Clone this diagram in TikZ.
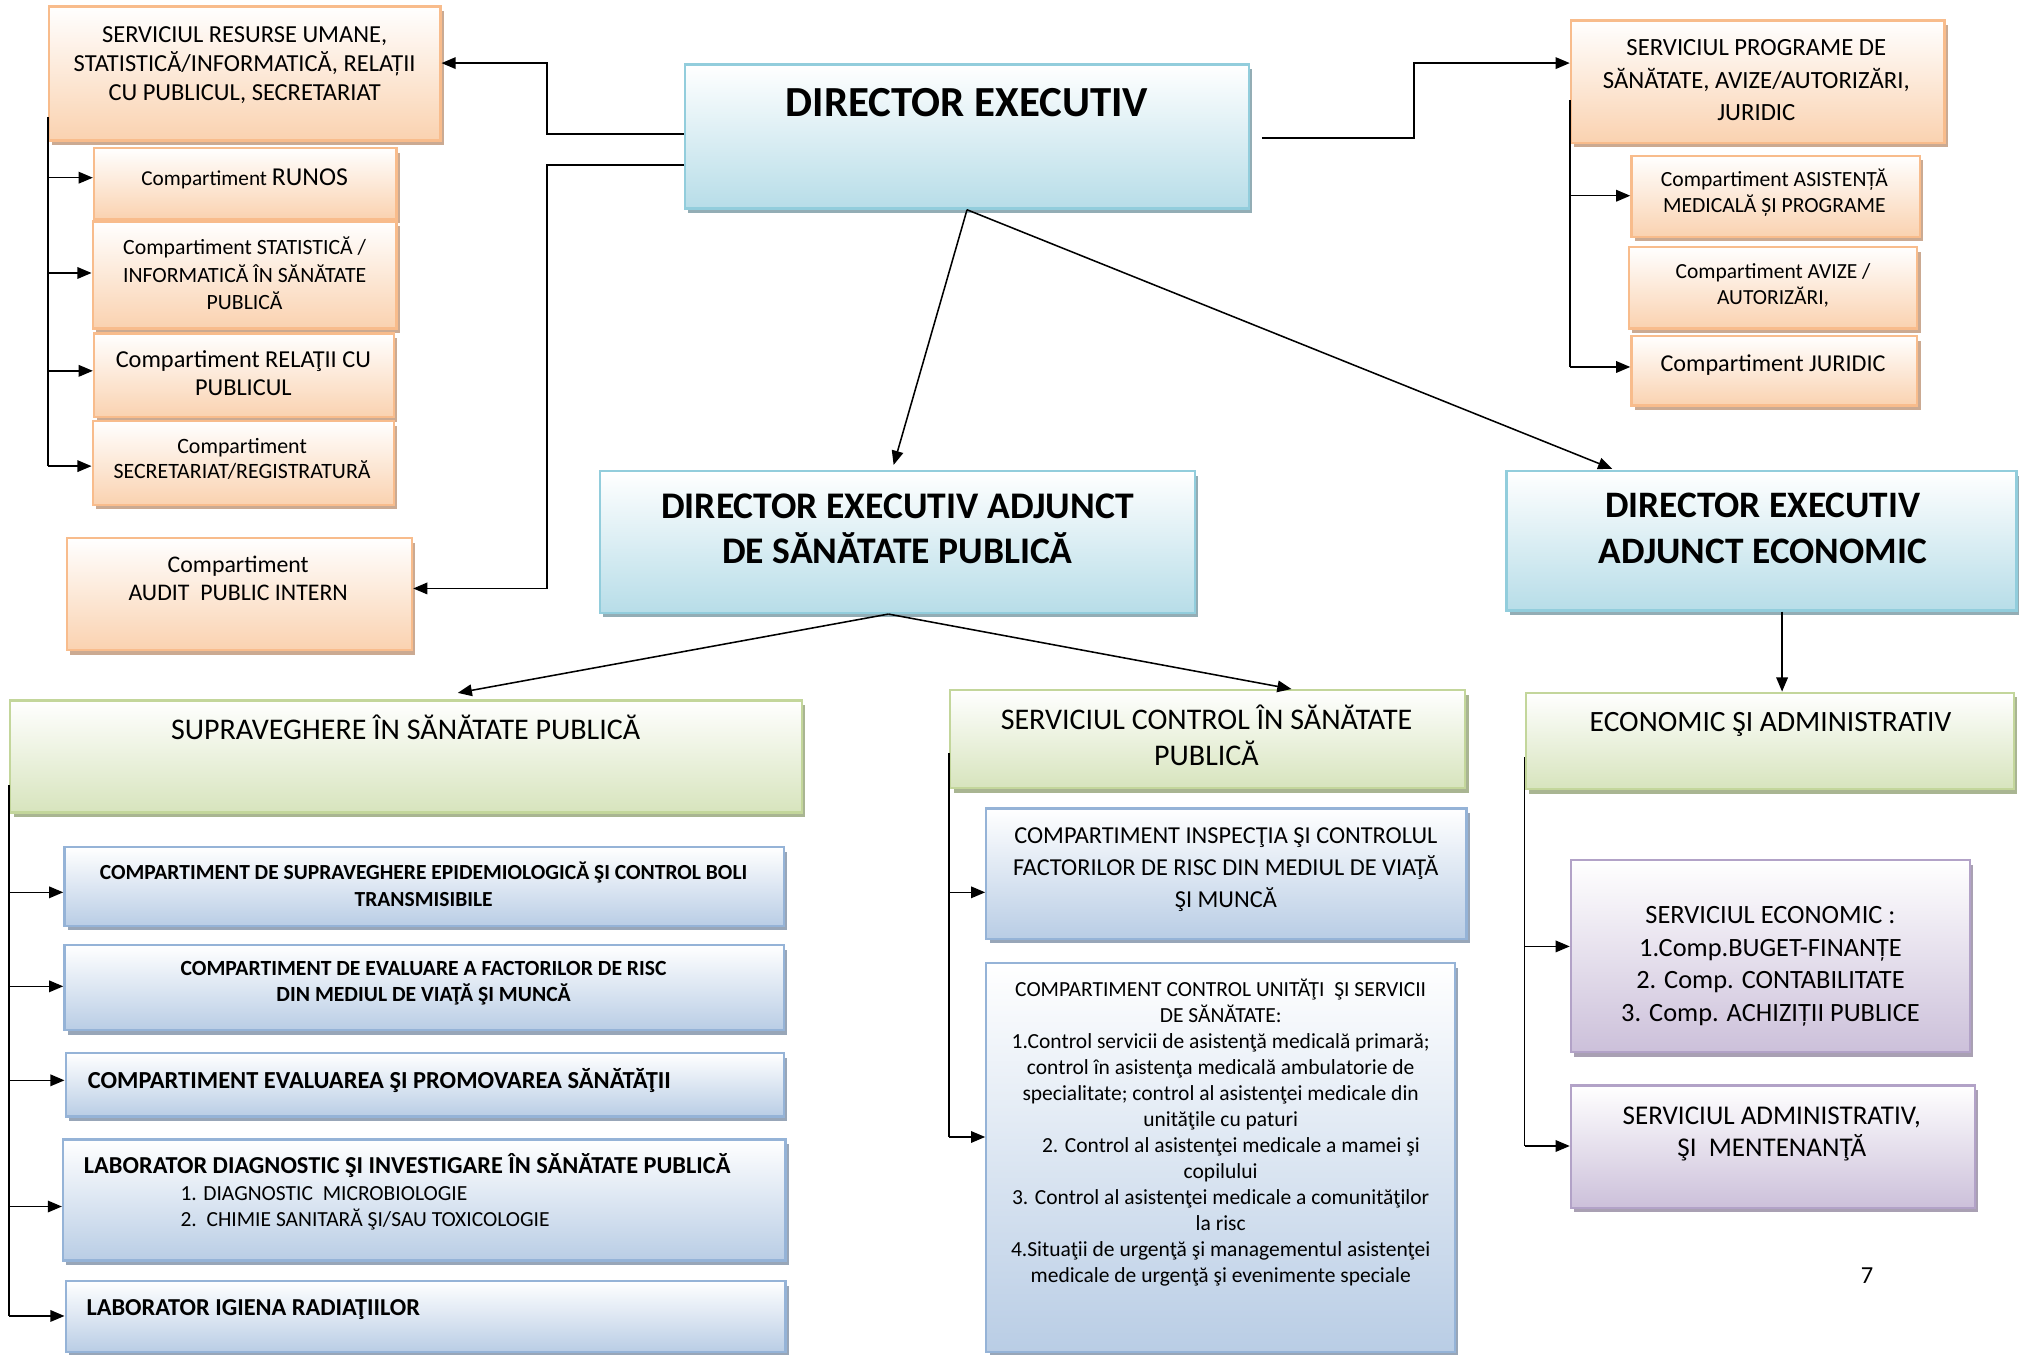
\documentclass[tikz,border=0pt]{standalone}
\usepackage{fontspec}
\setmainfont{Carlito}
\usetikzlibrary{arrows.meta,shadows,calc}
\definecolor{orB}{HTML}{F8BC8C}\definecolor{orF}{HTML}{FAD2B0}\definecolor{orS}{HTML}{CBAA92}
\definecolor{blB}{HTML}{92CDDC}\definecolor{blF}{HTML}{B7DDE8}\definecolor{blS}{HTML}{93ADB5}
\definecolor{grB}{HTML}{C3D69B}\definecolor{grF}{HTML}{D7E4BD}\definecolor{grS}{HTML}{A9B592}
\definecolor{bcB}{HTML}{95B3D7}\definecolor{bcF}{HTML}{B9CDE5}\definecolor{bcS}{HTML}{98A6B8}
\definecolor{puB}{HTML}{B2A2C7}\definecolor{puF}{HTML}{CCC0DA}\definecolor{puS}{HTML}{A9A0B3}
\newcommand\myfs[2]{\fontsize{#1}{#2}\selectfont}
\newcommand\mybox[6]{\node[#2, minimum width={(#5-#3)*1pt}, minimum height={(#6-#4)*1pt}] (#1) at ({(#3+#5)/2},{(#4+#6)/2}) {};}
\tikzset{
  bx/.style={draw, line width=1.8pt, inner sep=0pt},
  orbox/.style={bx, draw=orB, top color=white, bottom color=orF, general shadow={fill=orS, shadow xshift=2.5pt, shadow yshift=-3.5pt}},
  blbox/.style={bx, draw=blB, top color=white, bottom color=blF, general shadow={fill=blS, shadow xshift=2.5pt, shadow yshift=-3.5pt}},
  grbox/.style={bx, draw=grB, top color=white, bottom color=grF, general shadow={fill=grS, shadow xshift=2.5pt, shadow yshift=-3.5pt}},
  bcbox/.style={bx, draw=bcB, top color=white, bottom color=bcF, general shadow={fill=bcS, shadow xshift=2.5pt, shadow yshift=-3.5pt}},
  pubox/.style={bx, draw=puB, top color=white, bottom color=puF, general shadow={fill=puS, shadow xshift=2.5pt, shadow yshift=-3.5pt}},
  txt/.style={align=center, inner sep=0pt, execute at begin node=\strut, execute at end node=\strut},
  ln/.style={line width=1.2pt},
  arr/.style={line width=1.2pt, -{Triangle[length=11pt,width=9pt]}},
}
\begin{document}
\begin{tikzpicture}[x=1pt,y=-1pt]
\fill[white] (0,0) rectangle (1568,1052);
\useasboundingbox (0,0) rectangle (1568,1052);
% ---- boxes
\mybox{RU}{orbox}{38}{5}{342}{109}
\mybox{RUNOS}{orbox}{73}{115}{308}{170}
\mybox{STAT}{orbox}{72}{172}{308}{255}
\mybox{REL}{orbox}{73}{259}{306}{324}
\mybox{SEC}{orbox}{72}{327}{306}{392}
\mybox{AUD}{orbox}{52}{418}{320}{505}
\mybox{DE}{blbox}{532}{50}{970}{162}
\mybox{SP}{orbox}{1220}{16}{1510}{111}
\mybox{AS}{orbox}{1267}{121}{1491}{184}
\mybox{AV}{orbox}{1265}{192}{1489}{255}
\mybox{JU}{orbox}{1267}{261}{1489}{315}
\mybox{DEASP}{blbox}{466}{366}{928}{476}
\mybox{DEAE}{blbox}{1170}{366}{1566}{474}
\mybox{SUP}{grbox}{8}{544}{623}{631}
\mybox{SCSP}{grbox}{738}{536}{1138}{612}
\mybox{EA}{grbox}{1185}{538}{1564}{613}
\mybox{B1}{bcbox}{50}{658}{609}{719}
\mybox{B2}{bcbox}{50}{734}{609}{800}
\mybox{B3}{bcbox}{51}{818}{609}{867}
\mybox{B4}{bcbox}{49}{885}{610}{979}
\mybox{B5}{bcbox}{51}{995}{610}{1050}
\mybox{C1}{bcbox}{766}{628}{1139}{729}
\mybox{C2}{bcbox}{766}{748}{1130}{1050}
\mybox{SE}{pubox}{1220}{668}{1530}{817}
\mybox{SA}{pubox}{1220}{843}{1534}{938}
% ---- texts
\node[txt, font=\myfs{19}{22.5}] at (190,53) {SERVICIUL RESURSE UMANE,\\STATISTICĂ/INFORMATICĂ, RELAȚII\\CU PUBLICUL, SECRETARIAT};
\node[txt, font=\myfs{16.5}{20}] at (190,140) {Compartiment {\myfs{20}{24}RUNOS}};
\node[txt, font=\myfs{16.9}{21.5}] at (190,215.5) {Compartiment STATISTICĂ /\\INFORMATICĂ ÎN SĂNĂTATE\\PUBLICĂ};
\node[txt, font=\myfs{18.9}{22}] at (189,293) {Compartiment RELAŢII CU\\PUBLICUL};
\node[txt, font=\myfs{17}{20}] at (188,359) {Compartiment\\SECRETARIAT/REGISTRATURĂ};
\node[txt, font=\myfs{18.5}{22}] at (185,452.5) {Compartiment\\AUDIT\ \ PUBLIC INTERN};
\node[txt, font=\bfseries\myfs{33.3}{38}] at (751,83) {DIRECTOR EXECUTIV};
\node[txt, font=\myfs{19.2}{25}] at (1364,66) {SERVICIUL PROGRAME DE\\SĂNĂTATE, AVIZE/AUTORIZĂRI,\\JURIDIC};
\node[txt, font=\myfs{16.8}{20}] at (1378,151) {Compartiment ASISTENȚĂ\\MEDICALĂ ȘI PROGRAME};
\node[txt, font=\myfs{16.7}{19.5}] at (1377,223.5) {Compartiment AVIZE /\\AUTORIZĂRI,};
\node[txt, font=\myfs{18.8}{21}] at (1377,284) {Compartiment JURIDIC};
\node[txt, font=\bfseries\myfs{29.2}{35}] at (697,416) {DIRECTOR EXECUTIV ADJUNCT\\DE SĂNĂTATE PUBLICĂ};
\node[txt, font=\bfseries\myfs{29}{35}] at (1369,415.5) {DIRECTOR EXECUTIV\\ADJUNCT ECONOMIC};
\node[txt, font=\myfs{23.3}{27}] at (315,569) {SUPRAVEGHERE ÎN SĂNĂTATE PUBLICĂ};
\node[txt, font=\myfs{23.3}{28}] at (937,575) {SERVICIUL CONTROL ÎN SĂNĂTATE\\PUBLICĂ};
\node[txt, font=\myfs{22.9}{27}] at (1375,563) {ECONOMIC ŞI ADMINISTRATIV};
\node[txt, font=\bfseries\myfs{16.7}{21}] at (329,689.5) {COMPARTIMENT DE SUPRAVEGHERE EPIDEMIOLOGICĂ ŞI CONTROL BOLI\\TRANSMISIBILE};
\node[txt, font=\bfseries\myfs{16.8}{20}] at (329,765) {COMPARTIMENT DE EVALUARE A FACTORILOR DE RISC\\DIN MEDIUL DE VIAŢĂ ŞI MUNCĂ};
\node[txt, anchor=west, font=\bfseries\myfs{19}{22}] at (68,841) {COMPARTIMENT EVALUAREA ŞI PROMOVAREA SĂNĂTĂŢII};
\node[txt, anchor=west, font=\bfseries\myfs{18.9}{22}] at (65,907) {LABORATOR DIAGNOSTIC ŞI INVESTIGARE ÎN SĂNĂTATE PUBLICĂ};
\node[txt, anchor=west, align=left, font=\myfs{16.7}{20}] at (140,940) {1. DIAGNOSTIC\ \ MICROBIOLOGIE\\2.\ \ CHIMIE SANITARĂ ŞI/SAU TOXICOLOGIE};
\node[txt, anchor=west, font=\bfseries\myfs{18.9}{22}] at (67,1017.5) {LABORATOR IGIENA RADIAŢIILOR};
\node[txt, font=\myfs{18.9}{24.5}] at (952,677.5) {COMPARTIMENT INSPECŢIA ŞI CONTROLUL\\FACTORILOR DE RISC DIN MEDIUL DE VIAŢĂ\\ŞI MUNCĂ};
\node[txt, font=\myfs{16.7}{20.2}] at (948,881) {COMPARTIMENT CONTROL UNITĂŢI\ \ ŞI SERVICII\\DE SĂNĂTATE:\\1.Control servicii de asistenţă medicală primară;\\control în asistenţa medicală ambulatorie de\\specialitate; control al asistenţei medicale din\\unităţile cu paturi\\\hspace*{16pt}2. Control al asistenţei medicale a mamei şi\\copilului\\3. Control al asistenţei medicale a comunităţilor\\la risc\\4.Situaţii de urgenţă şi managementul asistenţei\\medicale de urgenţă şi evenimente speciale};
\node[txt, font=\myfs{20.5}{25.3}] at (1375,752.5) {SERVICIUL ECONOMIC :\\1.Comp.BUGET-FINANȚE\\2. Comp. CONTABILITATE\\3. Comp. ACHIZIȚII PUBLICE};
\node[txt, font=\myfs{21}{25}] at (1376,882.5) {SERVICIUL ADMINISTRATIV,\\ŞI\ \ MENTENANŢĂ};
\node[txt, font=\myfs{19}{23}] (pg) at (1450,992) {7};
% ---- connectors
\coordinate (deR) at (980,107);
\draw[arr] (DE.west |- 0,104) -| (425,49) -- (RU.east |- 0,49);
\draw[arr] (DE.west |- 0,128) -| (425,457) -- (AUD.east |- 0,457);
\draw[arr] (deR) -| (1098,49) -- (SP.west |- 0,49);
\draw[ln] (RU.west |- 0,91) -- (RU.west |- 0,362);
\foreach \n/\yy in {RUNOS/138, STAT/212, REL/288, SEC/362}
  \draw[arr] (RU.west |- 0,\yy) -- (\n.west |- 0,\yy);
\draw[ln] (SP.west |- 0,78) -- (SP.west |- 0,285);
\foreach \n/\yy in {AS/152, JU/285}
  \draw[arr] (SP.west |- 0,\yy) -- (\n.west |- 0,\yy);
\draw[arr] (DE.south) -- ([xshift=-3pt,yshift=4pt]DEASP.north);
\draw[arr] (DE.south) -- ([xshift=83pt,yshift=1pt]DEAE.north west);
\draw[arr] ([xshift=-7pt]DEASP.south) -- ([xshift=40pt,yshift=5pt]SUP.north);
\draw[arr] ([xshift=-7pt]DEASP.south) -- ([xshift=65pt]SCSP.north);
\draw[arr] ([xshift=16pt]DEAE.south) -- ([xshift=16pt]DEAE.south |- EA.north);
\draw[ln] (SUP.west |- 0,610) -- (SUP.west |- 0,1022);
\foreach \n/\yy in {B1/693, B2/766, B3/839, B4/937, B5/1022}
  \draw[arr] (SUP.west |- 0,\yy) -- (\n.west |- 0,\yy);
\draw[ln] (SCSP.west |- 0,585) -- (SCSP.west |- 0,883);
\foreach \n/\yy in {C1/693, C2/883}
  \draw[arr] (SCSP.west |- 0,\yy) -- (\n.west |- 0,\yy);
\draw[ln] (EA.west |- 0,588) -- (EA.west |- 0,890);
\foreach \n/\yy in {SE/735, SA/890}
  \draw[arr] (EA.west |- 0,\yy) -- (\n.west |- 0,\yy);
\end{tikzpicture}
\end{document}
